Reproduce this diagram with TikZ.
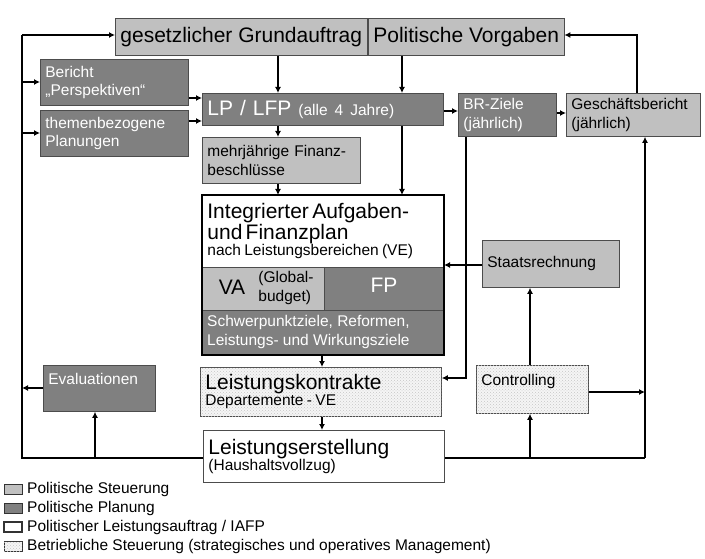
\documentclass[tikz,border=0pt]{standalone}
\usepackage{fontspec}
\setmainfont{Liberation Sans}
\usepackage{tikz}
\usetikzlibrary{arrows.meta,positioning,patterns}
\definecolor{steuer}{HTML}{C0C0C0}
\definecolor{planung}{HTML}{808080}
\newcommand{\grosstxt}{\fontsize{21}{23}\selectfont}
\newcommand{\mitteltxt}{\fontsize{15.5}{18.5}\selectfont}
\tikzset{
  box/.style={draw=black!70, thick, anchor=north west, inner sep=5pt, align=left},
  hell/.style={box, fill=steuer},
  dunkel/.style={box, fill=planung, text=white},
  punkte/.style={fill=gray!8, postaction={pattern=crosshatch dots, pattern color=gray!45}},
  betrieb/.style={box, punkte},
  weiss/.style={fill=white, line width=1.5pt},
  legS/.style={fill=steuer},
  legP/.style={fill=planung},
  pfeil/.style={line width=1.6pt, -{Latex[length=6pt,width=6pt]}},
  linie/.style={line width=1.6pt}
}
\begin{document}
\begin{tikzpicture}[x=1pt,y=-1pt]
    \useasboundingbox (0,0) rectangle (705,559);

    % Kopfzeile
    \node[hell, minimum width=243, minimum height=37, font=\grosstxt] (grund) at (115,18) {gesetzlicher Grundauftrag};
    \node[hell, minimum width=189, minimum height=37, font=\grosstxt] (vorgaben) at (368,18) {Politische Vorgaben};

    % linke Spalte
    \node[dunkel, minimum width=148, minimum height=46, text width=138, font=\mitteltxt] (bericht) at (40,59) {Bericht\\„Perspektiven“};
    \node[dunkel, minimum width=148, minimum height=46, text width=138, font=\mitteltxt] (themen) at (40,110) {themenbezogene\\Planungen};

    % Planung
    \node[dunkel, minimum width=241, minimum height=32, text width=231, font=\grosstxt] (lp) at (202,93) {LP / LFP {\mitteltxt (alle 4 Jahre)}};
    \node[dunkel, minimum width=98, minimum height=43, text width=88, font=\mitteltxt] (br) at (458,93) {BR-Ziele\\(jährlich)};
    \node[hell, minimum width=134, minimum height=43, text width=124, font=\mitteltxt] (gesch) at (566,93) {Geschäftsbericht\\(jährlich)};
    \node[hell, minimum width=158, minimum height=46, text width=148, font=\mitteltxt] (finanz) at (202,137) {mehrjährige Finanz-\\beschlüsse};

    % IAFP
    \node[box, draw=none, minimum width=242, minimum height=72, text width=232, inner sep=4pt] (iafp) at (202,195)
      {{\grosstxt Integrierter Aufgaben-\\und Finanzplan}\\{\mitteltxt nach Leistungsbereichen (VE)}};
    \fill[steuer] (202,267) rectangle (324,310);
    \fill[planung] (324,267) rectangle (444,310);
    \fill[planung] (444,310) rectangle (202,355);
    \draw[black!70] (202,267) -- (444,267) (324,267) -- (324,310) (202,310) -- (444,310);
    \node[font=\grosstxt] (va) at (232,287) {VA};
    \node[font=\mitteltxt, align=left, inner sep=0pt] (budget) at (286,288) {(Global-\\budget)};
    \node[font=\grosstxt, text=white] (fp) at (384,285) {FP};
    \node[font=\mitteltxt, text=white, align=left, anchor=west, inner sep=0pt] (ziele) at (207,332) {Schwerpunktziele, Reformen,\\Leistungs- und Wirkungsziele};
    \draw[line width=2.5pt] (202,195) rectangle (444,355);
    \coordinate (iafpS) at (322,355);
    \coordinate (iafpO) at (444,265);

    \node[hell, minimum width=137, minimum height=47, text width=127, font=\mitteltxt] (staat) at (482,240) {Staatsrechnung};

    % unterer Teil
    \node[dunkel, minimum width=112, minimum height=46, text width=102, font=\mitteltxt] (eval) at (43,365) {Evaluationen\\\phantom{x}};
    \node[betrieb, minimum width=241, minimum height=49, text width=231, inner sep=3pt] (kontrakt) at (200,367) {{\grosstxt Leistungskontrakte}\\{\mitteltxt Departemente - VE}};
    \node[betrieb, minimum width=112, minimum height=48, text width=102, font=\mitteltxt] (contr) at (476,365) {Controlling\\\phantom{x}};
    \node[box, fill=white, minimum width=241, minimum height=52, text width=231, inner sep=3pt] (erst) at (203,430) {{\grosstxt Leistungserstellung}\\{\mitteltxt (Haushaltsvollzug)}};

    % Verbindungen links
    \coordinate (lo) at (22,35);
    \coordinate (lu) at (22,458);
    \draw[linie] (erst.west |- lu) -- (lu) -- (lo);
    \draw[pfeil] (lo) -- (grund.west |- lo);
    \draw[pfeil] (22,82) -- (bericht.west |- 0,82);
    \draw[pfeil] (22,133) -- (themen.west |- 0,133);
    \draw[pfeil] (eval.west |- 0,388) -- (22,388);
    \draw[pfeil] (95,458) -- (eval.south -| 95,0);

    % Verbindungen Mitte
    \draw[pfeil] (grund.south -| 278,0) -- (lp.north -| 278,0);
    \draw[pfeil] (vorgaben.south -| 402,0) -- (lp.north -| 402,0);
    \draw[pfeil] (bericht.east |- 0,98) -- (lp.west |- 0,98);
    \draw[pfeil] (themen.east |- 0,121) -- (lp.west |- 0,121);
    \draw[pfeil] (lp.south -| 278,0) -- (finanz.north -| 278,0);
    \draw[pfeil] (finanz.south -| 278,0) -- (278,195);
    \draw[pfeil] (lp.south -| 402,0) -- (402,195);
    \draw[pfeil] (lp.east |- 0,111) -- (br.west |- 0,111);
    \draw[pfeil] (br.east |- 0,113) -- (gesch.west |- 0,113);
    \draw[pfeil] (gesch.north -| 637,0) -- (637,35) -- (vorgaben.east |- 0,35);
    \draw[pfeil] (br.south -| 466,0) -- (466,378) -- (kontrakt.east |- 0,378);
    \draw[pfeil] (staat.west |- iafpO) -- (iafpO);
    \draw[pfeil] (iafpS) -- (kontrakt.north -| iafpS);
    \draw[pfeil] (kontrakt.south -| iafpS) -- (erst.north -| iafpS);

    % Verbindungen rechts
    \draw[pfeil] (contr.north -| 530,0) -- (staat.south -| 530,0);
    \draw[linie] (erst.east |- 0,458) -- (645,458);
    \draw[pfeil] (645,458) -- (gesch.south -| 645,0);
    \draw[pfeil] (contr.east |- 0,392) -- (645,392);
    \draw[pfeil] (530,458) -- (contr.south -| 530,0);

    % Legende
    \foreach \y/\stil/\txt in {489/legS/{Politische Steuerung},
                               508/legP/{Politische Planung},
                               527/weiss/{Politischer Leistungsauftrag / IAFP},
                               546/punkte/{Betriebliche Steuerung (strategisches und operatives Management)}} {
      \draw[black!80, \stil] (4,\y-5) rectangle (22,\y+5);
      \node[anchor=west, font=\mitteltxt, inner sep=0pt] at (27,\y) {\txt};
    }
\end{tikzpicture}
\end{document}
